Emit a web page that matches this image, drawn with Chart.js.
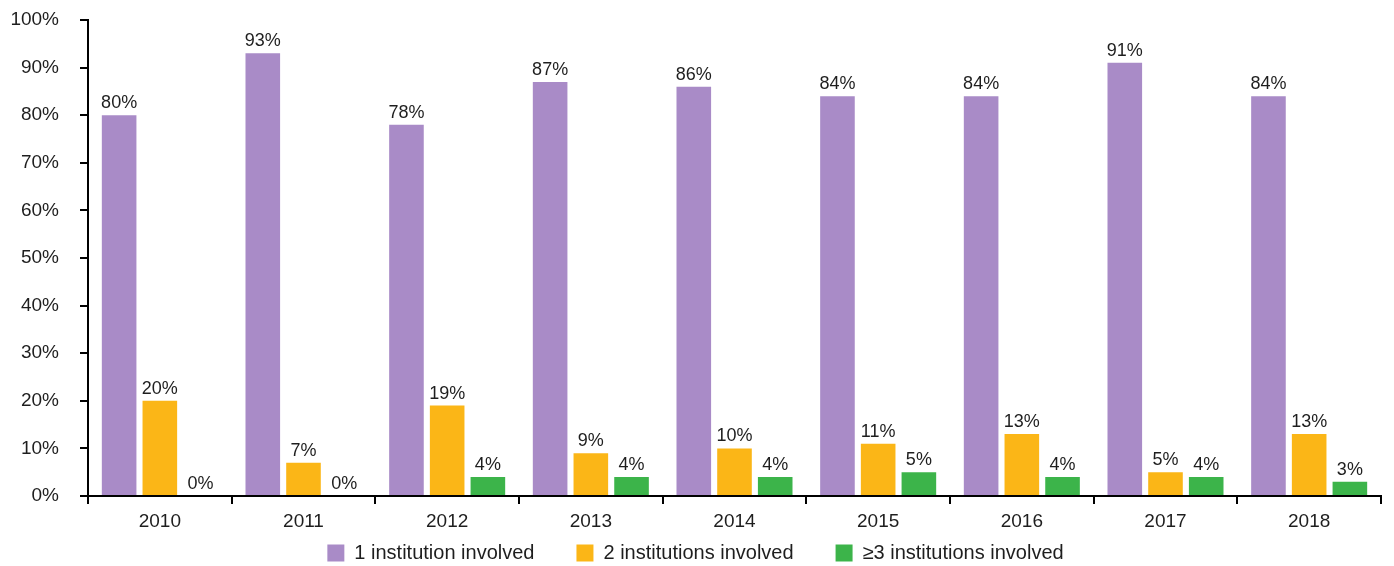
<!DOCTYPE html>
<html>
<head>
<meta charset="utf-8">
<script src="https://cdn.jsdelivr.net/npm/chart.js@4"></script>
<style>
  html, body { margin: 0; padding: 0; background: #fff; }
  #wrap { width: 1394px; height: 566px; }
</style>
</head>
<body>
<div id="wrap"><canvas id="chart" width="1394" height="566"></canvas></div>
<script>
const years = ['2010', '2011', '2012', '2013', '2014', '2015', '2016', '2017', '2018']
const oneInstitution = [80, 93, 78, 87, 86, 84, 84, 91, 84]
const twoInstitutions = [20, 7, 19, 9, 10, 11, 13, 5, 13]
const threePlus = [0, 0, 4, 4, 4, 5, 4, 4, 3]
const yTicks = [0, 10, 20, 30, 40, 50, 60, 70, 80, 90, 100]

const FONT = '"Liberation Sans", Arial, sans-serif'

// writes the percentage above each bar
const valueLabels = {
  id: 'valueLabels',
  afterDatasetsDraw(chart) {
    const ctx = chart.ctx
    ctx.save()
    ctx.font = '18px ' + FONT
    ctx.fillStyle = '#1e1e1e'
    ctx.textAlign = 'center'
    ctx.textBaseline = 'alphabetic'
    chart.data.datasets.forEach((ds, i) => {
      chart.getDatasetMeta(i).data.forEach((bar, j) => {
        ctx.fillText(ds.data[j] + '%', bar.x, bar.y - 7)
      })
    })
    ctx.restore()
  },
}

// the x axis box is kept thin so the legend sits close under it,
// so let its year labels draw below the box instead of being clipped
const yearRoom = {
  id: 'yearRoom',
  afterLayout(chart) {
    chart.scales.x.bottom = chart.height
  },
}

const ctx = document.getElementById('chart').getContext('2d')
const myChart = new Chart(ctx, {
  type: 'bar',
  data: {
    labels: years,
    datasets: [
      {
        label: '1 institution involved',
        data: oneInstitution,
        backgroundColor: '#a98bc7',
      },
      {
        label: '2 institutions involved',
        data: twoInstitutions,
        backgroundColor: '#fbb617',
      },
      {
        label: '≥3 institutions involved',
        data: threePlus,
        backgroundColor: '#3cb44a',
      },
    ],
  },
  options: {
    responsive: false,
    animation: false,
    layout: { padding: { top: 20, right: 13, left: 10, bottom: -7 } },
    datasets: {
      bar: { categoryPercentage: 0.85, barPercentage: 0.85 },
    },
    plugins: {
      tooltip: { enabled: false },
      legend: {
        position: 'bottom',
        labels: {
          font: { family: FONT, size: 20 },
          color: '#1e1e1e',
          boxWidth: 17,
          boxHeight: 17,
          padding: 42,
        },
      },
    },
    scales: {
      x: {
        afterFit: (axis) => {
          axis.height = 5
        },
        grid: {
          offset: true,
          drawOnChartArea: false,
          drawTicks: true,
          tickLength: 8,
          color: '#000',
          lineWidth: 2,
        },
        border: { color: '#000', width: 2 },
        ticks: {
          font: { family: FONT, size: 19 },
          color: '#1e1e1e',
          padding: 6,
        },
      },
      y: {
        min: 0,
        max: 100,
        afterFit: (axis) => {
          // fixed width; the top label may hang above the plot
          axis.width = 78
          axis.paddingTop = 0
        },
        afterBuildTicks: (axis) => {
          axis.ticks = yTicks.map((v) => ({ value: v }))
        },
        grid: {
          drawOnChartArea: false,
          drawTicks: true,
          tickLength: 8,
          color: '#000',
          lineWidth: 2,
        },
        border: { color: '#000', width: 2 },
        ticks: {
          font: { family: FONT, size: 19 },
          color: '#1e1e1e',
          padding: 21,
          callback: (value) => value + '%',
        },
      },
    },
  },
  plugins: [valueLabels, yearRoom],
})
</script>
</body>
</html>
